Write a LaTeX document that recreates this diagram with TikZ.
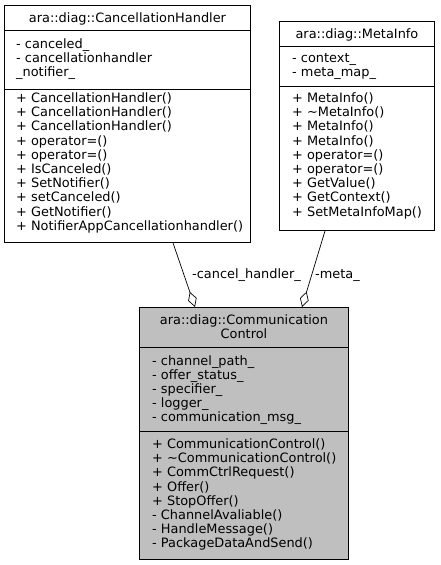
\documentclass[tikz,border=0pt]{standalone}
\usepackage{fontspec}
\setmainfont{DejaVu Sans}
\usetikzlibrary{arrows.meta,calc}
\begin{document}
\begin{tikzpicture}[x=1pt,y=-1pt,
 box/.style={draw, line width=0.9pt, inner sep=0, anchor=north west},
 txt/.style={inner sep=0, anchor=north west, align=left, font=\fontsize{12.9}{14.2}\selectfont},
 ttl/.style={inner sep=0, align=center, font=\fontsize{12.9}{14.2}\selectfont},
 lbl/.style={inner sep=0, anchor=west, font=\fontsize{12.9}{14.2}\selectfont},
 agg/.style={draw, line width=0.7pt, -{Diamond[open,length=16pt,width=9pt]}}
]
\useasboundingbox (0,0) rectangle (440,565);
% CancellationHandler
\node[box, minimum width=246, minimum height=25] (chT) at (4,5) {};
\node[box, minimum width=246, minimum height=59] (chA) at (4,30) {};
\node[box, minimum width=246, minimum height=153] (chM) at (4,89) {};
\node[ttl] (chTt) at ($(chT.center)+(0,1)$) {ara::diag::CancellationHandler};
\node[txt] (chAt) at (16,38) {- canceled\_\\- cancellationhandler\\\_notifier\_};
\node[txt] (chMt) at (16,92.5) {+ CancellationHandler()\\+ CancellationHandler()\\+ CancellationHandler()\\+ operator=()\\+ operator=()\\+ IsCanceled()\\+ SetNotifier()\\+ setCanceled()\\+ GetNotifier()\\+ NotifierAppCancellationhandler()};
% MetaInfo
\node[box, minimum width=155, minimum height=25] (miT) at (279,21) {};
\node[box, minimum width=155, minimum height=40] (miA) at (279,46) {};
\node[box, minimum width=155, minimum height=144] (miM) at (279,86) {};
\node[ttl] (miTt) at ($(miT.center)+(0,1)$) {ara::diag::MetaInfo};
\node[txt] (miAt) at (292,53) {- context\_\\- meta\_map\_};
\node[txt] (miMt) at (292,92.5) {+ MetaInfo()\\+ \textasciitilde MetaInfo()\\+ MetaInfo()\\+ MetaInfo()\\+ operator=()\\+ operator=()\\+ GetValue()\\+ GetContext()\\+ SetMetaInfoMap()};
% CommunicationControl
\node[box, fill=black!25, minimum width=209, minimum height=40] (ccT) at (139,307) {};
\node[box, fill=black!25, minimum width=209, minimum height=84] (ccA) at (139,347) {};
\node[box, fill=black!25, minimum width=209, minimum height=128] (ccM) at (139,431) {};
\node[ttl] (ccTt) at ($(ccT.center)+(0,-0.5)$) {ara::diag::Communication\\Control};
\node[txt] (ccAt) at (152,355) {- channel\_path\_\\- offer\_status\_\\- specifier\_\\- logger\_\\- communication\_msg\_};
\node[txt] (ccMt) at (152,438.5) {+ CommunicationControl()\\+ \textasciitilde CommunicationControl()\\+ CommCtrlRequest()\\+ Offer()\\+ StopOffer()\\- ChannelAvaliable()\\- HandleMessage()\\- PackageDataAndSend()};
% connectors
\draw[agg] ($(chM.south west)+(169,0)$) -- ($(ccT.north west)+(56,0)$);
\draw[agg] ($(miM.south west)+(46,0)$) -- ($(ccT.north west)+(163,0)$);
\node[lbl] (l1) at (192,275) {-cancel\_handler\_};
\node[lbl] (l2) at (315,275) {-meta\_};
\end{tikzpicture}
\end{document}
